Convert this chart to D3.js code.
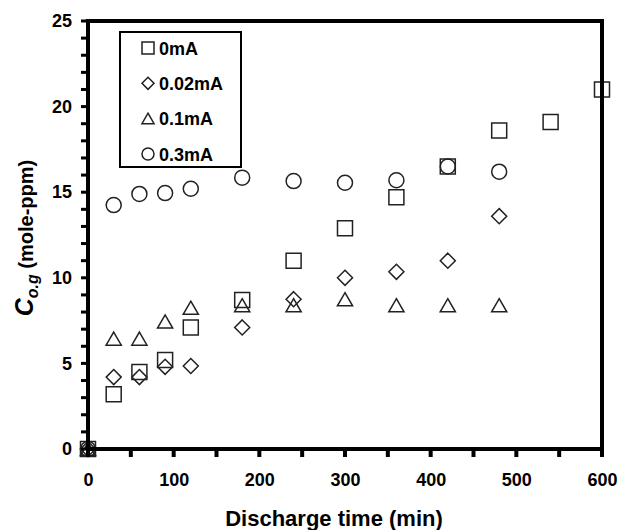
<!DOCTYPE html>
<html>
<head>
<meta charset="utf-8">
<script src="https://cdn.jsdelivr.net/npm/d3@7"></script>
<style>
  body { margin: 0; background: #fff; }
  svg { display: block; font-family: "Liberation Sans", Arial, sans-serif; font-weight: bold; }
</style>
</head>
<body>
<script>
// discharge time (min) and C_o.g values
const t0 = [0, 30, 60, 90, 120, 180, 240, 300, 360, 420, 480, 540, 600];
const c0 = [0, 3.2, 4.5, 5.2, 7.1, 8.7, 11.0, 12.9, 14.7, 16.5, 18.6, 19.1, 21.0];

const t002 = [0, 30, 60, 90, 120, 180, 240, 300, 360, 420, 480];
const c002 = [0, 4.2, 4.2, 4.8, 4.85, 7.1, 8.75, 10.0, 10.35, 11.0, 13.6];

const t01 = [0, 30, 60, 90, 120, 180, 240, 300, 360, 420, 480];
const c01 = [0, 6.45, 6.45, 7.45, 8.25, 8.4, 8.4, 8.75, 8.4, 8.4, 8.4];

const t03 = [0, 30, 60, 90, 120, 180, 240, 300, 360, 420, 480];
const c03 = [0, 14.25, 14.9, 14.95, 15.2, 15.85, 15.65, 15.55, 15.7, 16.5, 16.2];

const seriesNames = ["0mA", "0.02mA", "0.1mA", "0.3mA"];
const xTicks = [0, 100, 200, 300, 400, 500, 600];
const yTicks = [0, 5, 10, 15, 20, 25];

const W = 622, H = 530;
const pl = 88, pr = 602, pt = 21, pb = 449;

const svg = d3.select("body").append("svg")
  .attr("width", W).attr("height", H);

const x = d3.scaleLinear().domain([0, 600]).range([pl, pr]);
const y = d3.scaleLinear().domain([0, 25]).range([pb, pt]);

const sym = {
  "0mA": d3.symbol(d3.symbolSquare, 225),
  "0.02mA": d3.symbol(d3.symbolDiamond2, 144),
  "0.1mA": d3.symbol(d3.symbolTriangle2, 165),
  "0.3mA": d3.symbol(d3.symbolCircle, 177)
};
const symSmall = {
  "0mA": d3.symbol(d3.symbolSquare, 144),
  "0.02mA": d3.symbol(d3.symbolDiamond2, 92),
  "0.1mA": d3.symbol(d3.symbolTriangle2, 105),
  "0.3mA": d3.symbol(d3.symbolCircle, 113)
};

const series = [
  { name: "0mA", t: t0, c: c0 },
  { name: "0.02mA", t: t002, c: c002 },
  { name: "0.1mA", t: t01, c: c01 },
  { name: "0.3mA", t: t03, c: c03 }
];

// markers
series.forEach(s => {
  const pts = s.t.map((d, i) => [d, s.c[i]]);
  // triangles: shift so the bbox is centred on the value
  const dy = s.name === "0.1mA" ? 2.2 : 0;
  svg.append("g").selectAll("path").data(pts).join("path")
    .attr("transform", d => `translate(${x(d[0])},${y(d[1]) + dy})`)
    .attr("d", sym[s.name]())
    .attr("fill", "none")
    .attr("stroke", "#222")
    .attr("stroke-width", 1.5);
});

// axes (labels only; ticks + frame drawn as filled rects)
const yAxis = d3.axisLeft(y)
  .tickValues(yTicks)
  .tickSize(0).tickPadding(16);
const gy = svg.append("g").attr("transform", `translate(${pl},0)`).call(yAxis);
gy.select(".domain").remove();
gy.selectAll(".tick text").attr("font-size", 18).attr("font-weight", "bold")
  .attr("font-family", "Liberation Sans, Arial, sans-serif").attr("fill", "#000");

const xAxis = d3.axisBottom(x)
  .tickValues(xTicks)
  .tickSize(0).tickPadding(24);
const gx = svg.append("g").attr("transform", `translate(0,${pb})`).call(xAxis);
gx.select(".domain").remove();
gx.selectAll(".tick text").attr("font-size", 18).attr("font-weight", "bold")
  .attr("font-family", "Liberation Sans, Arial, sans-serif").attr("fill", "#000");

const ink = svg.append("g").attr("fill", "#000");
// y tick marks every 1
ink.selectAll(".yt").data(d3.range(0, 26)).join("rect").attr("class", "yt")
  .attr("x", pl - 7).attr("width", 7)
  .attr("y", d => y(d) - 1.5).attr("height", 3);
// x tick marks every 50
ink.selectAll(".xt").data(d3.range(0, 601, 50)).join("rect").attr("class", "xt")
  .attr("x", d => x(d) - 2).attr("width", 4)
  .attr("y", pb).attr("height", 8);
// frame
ink.append("rect").attr("x", pl - 2).attr("y", pt - 2).attr("width", 4).attr("height", pb - pt + 4);
ink.append("rect").attr("x", pr - 2).attr("y", pt - 2).attr("width", 4).attr("height", pb - pt + 4);
ink.append("rect").attr("x", pl - 2).attr("y", pt - 2).attr("width", pr - pl + 4).attr("height", 4);
ink.append("rect").attr("x", pl - 2).attr("y", pb - 2).attr("width", pr - pl + 4).attr("height", 4);

// axis titles
svg.append("text")
  .attr("x", 334).attr("y", 526)
  .attr("text-anchor", "middle").attr("font-size", 22)
  .text("Discharge time (min)");

const yl = svg.append("text")
  .attr("transform", "translate(33,238) rotate(-90)")
  .attr("text-anchor", "middle");
yl.append("tspan").attr("font-size", 25).attr("font-style", "italic").text("C");
yl.append("tspan").attr("font-size", 16).attr("font-style", "italic").attr("dy", 5).text("o.g");
yl.append("tspan").attr("font-size", 20).attr("dy", -5).text("\u00a0(mole-ppm)");

// legend
const leg = svg.append("g");
leg.append("rect")
  .attr("x", 120).attr("y", 32).attr("width", 121).attr("height", 135)
  .attr("fill", "#fff").attr("stroke", "#000").attr("stroke-width", 2);
const ly = d3.scalePoint().domain(seriesNames).range([48, 154]);
seriesNames.forEach(n => {
  const dy = n === "0.1mA" ? 1.5 : 0;
  leg.append("path")
    .attr("transform", `translate(148,${ly(n) + dy})`)
    .attr("d", symSmall[n]())
    .attr("fill", "none").attr("stroke", "#222").attr("stroke-width", 1.5);
  leg.append("text")
    .attr("x", 159).attr("y", ly(n) + 6.5)
    .attr("font-size", 18)
    .text(n);
});
</script>
</body>
</html>
